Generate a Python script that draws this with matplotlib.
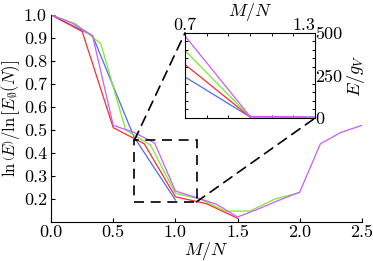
import matplotlib
matplotlib.use("Agg")
import matplotlib.pyplot as plt
from matplotlib.patches import Rectangle, ConnectionPatch

plt.rcParams['font.family'] = 'serif'
plt.rcParams['font.serif'] = ['cmr10', 'DejaVu Serif']
plt.rcParams['mathtext.fontset'] = 'cm'
plt.rcParams['axes.formatter.use_mathtext'] = True
plt.rcParams['font.size'] = 13

# main panel data, M/N vs ln(E)/ln[E0(N)]
x_blue = [0, 1/3, 2/3, 1.0]
y_blue = [1.0, 0.91, 0.47, 0.196]
x_red = [0, 0.25, 0.5, 0.75, 1.0, 1.25, 1.5]
y_red = [1.0, 0.928, 0.51, 0.44, 0.21, 0.18, 0.117]
x_green = [0, 0.2, 0.4, 0.6, 0.8, 1.0, 1.2, 1.4, 1.6, 1.8, 2.0]
y_green = [1.0, 0.96, 0.875, 0.50, 0.435, 0.225, 0.20, 0.148, 0.148, 0.20, 0.228]
x_violet = [0, 1/6, 1/3, 0.5, 2/3, 5/6, 1.0, 7/6, 4/3, 1.5, 5/3, 11/6, 2.0, 13/6, 7/3, 2.5]
y_violet = [1.0, 0.965, 0.91, 0.52, 0.49, 0.443, 0.235, 0.207, 0.177, 0.122, 0.157, 0.195, 0.23, 0.44, 0.49, 0.52]

# inset data, M/N vs E/gV
ins_x = [0.7, 1.0, 1.3]
ins_blue = [241, 6]
ins_red = [314, 6, 3]
ins_green = [396, 7, 4]
ins_violet = [482, 9, 6]

c_blue = '#4a6cff'
c_red = '#ff2a2a'
c_green = '#7fe82a'
c_violet = '#c85cff'

fig = plt.figure(figsize=(3.73, 2.61), dpi=100)
ax = fig.add_axes([0.137, 0.149, 0.833, 0.794])
lw = 0.9
ax.plot(x_blue, y_blue, color=c_blue, lw=lw)
ax.plot(x_red, y_red, color=c_red, lw=lw)
ax.plot(x_green, y_green, color=c_green, lw=lw)
ax.plot(x_violet, y_violet, color=c_violet, lw=lw)
ax.set_xlim(0, 2.5)
ax.set_ylim(0.1, 1.0)
ax.set_xticks([0, 0.5, 1.0, 1.5, 2.0, 2.5])
ax.set_yticks([0.2, 0.3, 0.4, 0.5, 0.6, 0.7, 0.8, 0.9, 1.0])
ax.set_xticklabels(['0.0', '0.5', '1.0', '1.5', '2.0', '2.5'])
ax.set_yticklabels(['0.2', '0.3', '0.4', '0.5', '0.6', '0.7', '0.8', '0.9', '1.0'])
ax.tick_params(direction='in', length=3, width=0.8)
ax.tick_params(axis='x', pad=2)
ax.tick_params(axis='y', pad=3)
ax.spines['top'].set_visible(False)
ax.spines['right'].set_visible(False)
ax.set_xlabel(r'$M/N$', labelpad=0)
ax.set_ylabel(r'$\ln\left(E\right)/\ln\left[E_{\emptyset}(N)\right]$',
              fontsize=12, labelpad=1)

# zoom box
rect = Rectangle((0.67, 0.188), 0.5, 0.267, fill=False, ec='black', lw=1.2,
                 ls=(0, (6, 4)), zorder=5)
ax.add_patch(rect)

ins = fig.add_axes([0.496, 0.548, 0.349, 0.326])
ins.plot(ins_x[:2], ins_blue, color=c_blue, lw=lw)
ins.plot(ins_x, ins_red, color=c_red, lw=lw)
ins.plot(ins_x, ins_green, color=c_green, lw=lw)
ins.plot(ins_x, ins_violet, color=c_violet, lw=lw)
ins.set_xlim(0.7, 1.3)
ins.set_ylim(0, 500)
ins.xaxis.tick_top()
ins.yaxis.tick_right()
ins.xaxis.set_label_position('top')
ins.yaxis.set_label_position('right')
ins.set_xticks([0.7, 1.3])
ins.set_xticklabels(['0.7', '1.3'])
ins.get_xticklabels()[1].set_horizontalalignment('right')
ins.set_yticks([0, 250, 500])
ins.set_yticklabels(['0', '250', '500'])
ins.set_xticks([0.8, 0.9, 1.0, 1.1, 1.2], minor=True)
ins.set_yticks([50, 100, 150, 200, 300, 350, 400, 450], minor=True)
ins.tick_params(which='both', direction='in', top=True, bottom=True,
                left=True, right=True, length=2.5, width=0.7, pad=0)
ins.tick_params(which='major', length=0)
for s in ins.spines.values():
    s.set_linewidth(0.8)
ins.set_xlabel(r'$M/N$', labelpad=1)
ins.set_ylabel(r'$E/g_V$', labelpad=2)

con1 = ConnectionPatch(xyA=(0.67, 0.455), coordsA=ax.transData,
                       xyB=(0.0, 1.0), coordsB=ins.transAxes,
                       color='black', lw=1.2, ls=(0, (6, 4)), zorder=6)
con2 = ConnectionPatch(xyA=(1.17, 0.188), coordsA=ax.transData,
                       xyB=(1.0, 0.0), coordsB=ins.transAxes,
                       color='black', lw=1.2, ls=(0, (6, 4)), zorder=6)
fig.add_artist(con1)
fig.add_artist(con2)

fig.savefig('out.png', dpi=100)
